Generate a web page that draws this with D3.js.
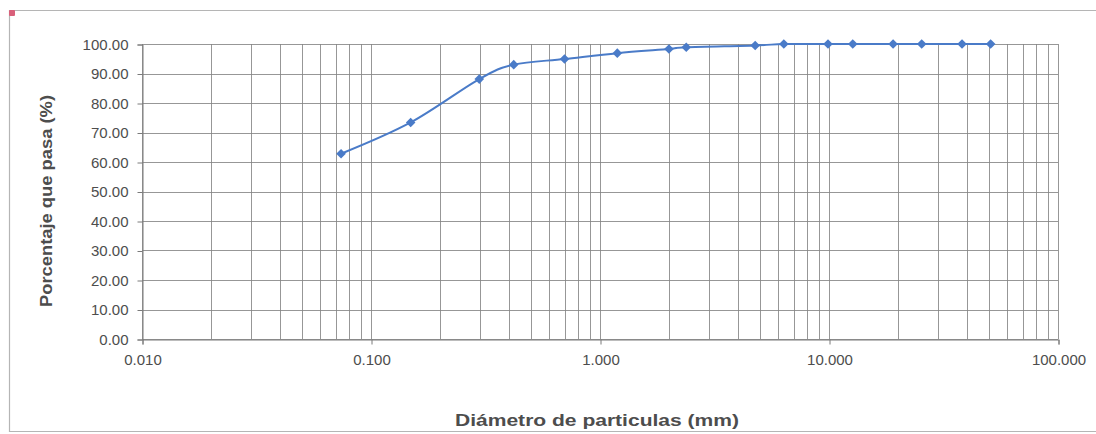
<!DOCTYPE html>
<html>
<head>
<meta charset="utf-8">
<script src="https://cdn.jsdelivr.net/npm/d3@7"></script>
<style>
  html, body { margin: 0; padding: 0; background: #ffffff; }
  svg { display: block; }
</style>
</head>
<body>
<svg id="chart" width="1096" height="434"></svg>
<script>
// Granulometric curve: sieve opening (mm) vs. percent passing
const diametros = [50.8, 38.1, 25.4, 19.05, 12.7, 9.9, 6.35, 4.76, 2.38, 2.0, 1.19, 0.70, 0.42, 0.297, 0.149, 0.074];
const porcentajePasa = [100, 100, 100, 100, 100, 100, 100, 99.5, 98.9, 98.3, 96.9, 94.9, 93.0, 88.1, 73.4, 62.8];

const xTicks = [0.01, 0.1, 1, 10, 100];
const yTicks = [0, 10, 20, 30, 40, 50, 60, 70, 80, 90, 100];

const svg = d3.select("#chart");
const W = 1096, H = 434;
const plotL = 142, plotR = 1058, plotT = 44, plotB = 339;

const x = d3.scaleLog().domain([0.01, 100]).range([plotL, plotR]);
const y = d3.scaleLinear().domain([0, 100]).range([plotB, plotT]);

const textColor = "#4d4d4d";
const gridColor = "#858585";
const lineColor = "#4a7bc8";
const fontFamily = "'Liberation Sans', Arial, sans-serif";

// chart area frame
svg.append("path")
  .attr("d", `M${W},10.5 H9.5 V431.5 H${W}`)
  .attr("fill", "none")
  .attr("stroke", "#b5b5b5")
  .attr("stroke-width", 1.2);
svg.append("rect")
  .attr("x", 9).attr("y", 10).attr("width", 6).attr("height", 6)
  .attr("rx", 1)
  .attr("fill", "#d9607a");

// vertical grid: every 1..9 within each decade
const minor = [];
for (let e = -2; e < 2; e++) {
  for (let m = 1; m <= 9; m++) minor.push(m * Math.pow(10, e));
}
minor.push(100);
svg.append("g").selectAll("line").data(minor).join("line")
  .attr("x1", d => Math.round(x(d)) + 0.5).attr("x2", d => Math.round(x(d)) + 0.5)
  .attr("y1", plotT).attr("y2", plotB)
  .attr("stroke", gridColor).attr("stroke-width", 1).attr("opacity", 0.85);

// horizontal grid
svg.append("g").selectAll("line").data(yTicks).join("line")
  .attr("x1", plotL).attr("x2", plotR)
  .attr("y1", d => Math.round(y(d)) + 0.5).attr("y2", d => Math.round(y(d)) + 0.5)
  .attr("stroke", gridColor).attr("stroke-width", 1).attr("opacity", 0.85);

// y axis
const yAxis = d3.axisLeft(y).tickValues(yTicks).tickSize(5).tickPadding(9)
  .tickFormat(d3.format(".2f"));
const gy = svg.append("g").attr("transform", `translate(${plotL + 0.5},0.5)`).call(yAxis);
gy.select(".domain").attr("stroke", "#7a7a7a");
gy.selectAll(".tick line").attr("stroke", "#7a7a7a");
gy.selectAll("text")
  .attr("fill", textColor)
  .style("font-family", fontFamily)
  .style("font-size", "15px");

// x axis
const xAxis = d3.axisBottom(x).tickValues(xTicks).tickSize(5).tickPadding(10)
  .tickFormat(d3.format(".3f"));
const gx = svg.append("g").attr("transform", `translate(0.5,${plotB + 0.5})`).call(xAxis);
gx.select(".domain").attr("stroke", "#7a7a7a");
gx.selectAll(".tick line").attr("stroke", "#7a7a7a");
gx.selectAll("text")
  .attr("fill", textColor)
  .style("font-family", fontFamily)
  .style("font-size", "15px");

// series
const pts = diametros.map((d, i) => [d, porcentajePasa[i]]);
const line = d3.line()
  .x(d => x(d[0])).y(d => y(d[1]))
  .curve(d3.curveCatmullRom.alpha(0));
svg.append("path")
  .datum(pts)
  .attr("d", line)
  .attr("fill", "none")
  .attr("stroke", lineColor)
  .attr("stroke-width", 2);

svg.append("g").selectAll("path").data(pts).join("path")
  .attr("d", d3.symbol(d3.symbolSquare, 46))
  .attr("transform", d => `translate(${x(d[0])},${y(d[1])}) rotate(45)`)
  .attr("fill", lineColor);

// axis titles (wide bold face)
svg.append("text")
  .attr("x", 597).attr("y", 426)
  .attr("text-anchor", "middle")
  .attr("fill", textColor)
  .attr("textLength", 284)
  .attr("lengthAdjust", "spacingAndGlyphs")
  .style("font-family", fontFamily)
  .style("font-size", "16px").style("font-weight", "bold")
  .text("Diámetro de particulas (mm)");

svg.append("text")
  .attr("transform", "translate(52,201) rotate(-90)")
  .attr("text-anchor", "middle")
  .attr("fill", textColor)
  .attr("textLength", 212)
  .attr("lengthAdjust", "spacingAndGlyphs")
  .style("font-family", fontFamily)
  .style("font-size", "16px").style("font-weight", "bold")
  .text("Porcentaje que pasa (%)");
</script>
</body>
</html>
